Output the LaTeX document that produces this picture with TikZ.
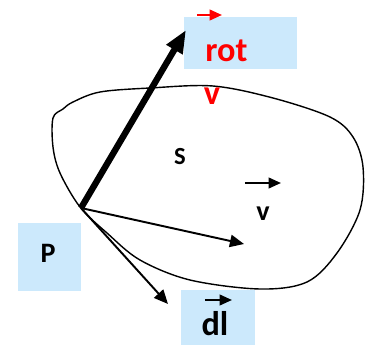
\documentclass[tikz,border=0pt]{standalone}
\usepackage{fontspec}
\setmainfont{Carlito}
\usetikzlibrary{arrows.meta}
\definecolor{boxblue}{RGB}{204,233,252}
\tikzset{
  box/.style={fill=boxblue,inner sep=0pt},
  lbl/.style={font=\bfseries\fontsize{14}{14}\selectfont,inner sep=0pt},
  biglbl/.style={font=\bfseries\fontsize{19.5}{19.5}\selectfont,inner sep=0pt},
  tinyvec/.style={-{Triangle[length=7pt,width=6pt]},line width=1.2pt}
}
\begin{document}
\begin{tikzpicture}[x=0.02cm,y=-0.02cm]
\useasboundingbox (0,0) rectangle (366,345);

% surface S
\draw[line width=0.8pt] plot[smooth cycle,tension=0.55] coordinates {
  (53,118) (63,109) (73,102) (100,92) (150,88) (213,86) (273,98)
  (330,117) (353,137) (363,167) (360,210) (337,253) (307,282)
  (260,289) (190,280) (140,260) (107,233) (80,207) (60,173) (53,147)};

% boxes
\node[box,minimum width=2.26cm,minimum height=1.04cm] (rotbox) at (240.5,43) {};
\node[box,minimum width=1.26cm,minimum height=1.36cm] (pbox) at (49.5,257) {};
\node[box,minimum width=1.48cm,minimum height=1.1cm] (dlbox) at (218,317.5) {};

% point and vectors
\coordinate (P) at (81,208);
\coordinate (rottip) at (186,30);
\coordinate (vtip) at (244,244);
\coordinate (dltip) at (168,304);
\draw[-{Triangle[length=13pt,width=10pt]},line width=3.6pt] (P) -- (rottip);
\draw[-{Triangle[length=8pt,width=7pt]},line width=1.1pt] (P) -- (vtip);
\draw[-{Triangle[length=8pt,width=7pt]},line width=1.1pt] (P) -- (dltip);

% labels
\node[biglbl,red,anchor=base] (rot) at (226.5,61) {rot};
\node[biglbl,red,anchor=base] (rotv) at (212,104) {v};
\coordinate (ra) at (197,15);
\coordinate (rb) at (222,15);
\draw[tinyvec,red] (ra) -- (rb);

\node[lbl] (S) at (180,157) {S};
\node[lbl,font=\bfseries\fontsize{16}{16}\selectfont] (v) at (263,214) {v};
\coordinate (va) at (245,183);
\coordinate (vb) at (281,183);
\draw[tinyvec] (va) -- (vb);

\node[font=\bfseries\fontsize{16}{16}\selectfont,inner sep=0pt] (Plbl) at (48,253) {P};
\node[font=\bfseries\fontsize{19.5}{19.5}\selectfont,inner sep=0pt,anchor=base] (dl) at (215,335) {dl};
\coordinate (da) at (205,300);
\coordinate (db) at (232,300);
\draw[tinyvec] (da) -- (db);
\end{tikzpicture}
\end{document}
